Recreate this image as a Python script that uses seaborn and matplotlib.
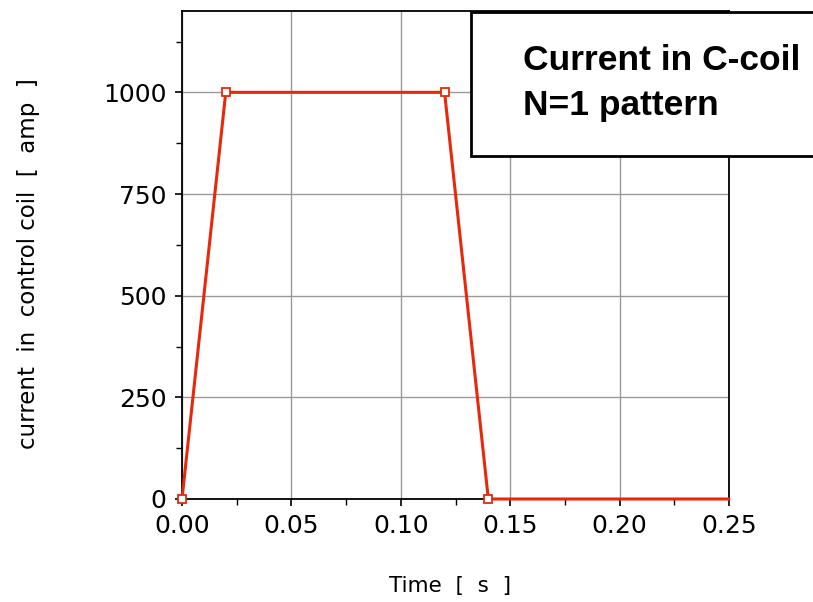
import matplotlib
matplotlib.use("Agg")
import matplotlib.pyplot as plt
import seaborn as sns
import pandas as pd
from matplotlib.patches import Rectangle
from matplotlib.ticker import MultipleLocator

time_s = [0.0, 0.02, 0.12, 0.14, 0.25]
current_amp = [0, 1000, 1000, 0, 0]
marked_points = [0, 1, 2, 3]
x_ticks = [0.00, 0.05, 0.10, 0.15, 0.20, 0.25]
x_tick_labels = ["0.00", "0.05", "0.10", "0.15", "0.20", "0.25"]
y_ticks = [0, 250, 500, 750, 1000]
y_tick_labels = ["0", "250", "500", "750", "1000"]

df = pd.DataFrame({"t": time_s, "i": current_amp})

sns.set_style("white")
plt.rcParams['font.family'] = ['DejaVu Sans']
plt.rcParams['text.color'] = 'black'
plt.rcParams['axes.labelcolor'] = 'black'
plt.rcParams['xtick.color'] = 'black'
plt.rcParams['ytick.color'] = 'black'

fig = plt.figure(figsize=(8.13, 6.02), dpi=100)
ax = fig.add_axes([182/813, 103/602, (729-182)/813, (499-11)/602])

ax.grid(True, color="#999999", linewidth=1.0, zorder=0)
ax.set_axisbelow(True)

sns.lineplot(data=df, x="t", y="i", ax=ax, color="#e8280a", linewidth=2.2,
             marker="s", markersize=6, markerfacecolor="white",
             markeredgecolor="#e8280a", markeredgewidth=1.3, zorder=5,
             markevery=marked_points, clip_on=False)

ax.set_xlim(0, 0.25)
ax.set_ylim(0, 1200)
ax.set_xticks(x_ticks)
ax.set_xticklabels(x_tick_labels)
ax.set_yticks(y_ticks)
ax.set_yticklabels(y_tick_labels)
ax.xaxis.set_minor_locator(MultipleLocator(0.025))
ax.yaxis.set_minor_locator(MultipleLocator(125))
ax.tick_params(which="major", direction="out", length=5, width=1.2, labelsize=18,
               bottom=True, left=True, colors="black")
ax.tick_params(which="minor", direction="out", length=4, width=1.0,
               bottom=True, left=True)
ax.tick_params(axis="x", pad=6)
ax.tick_params(axis="y", pad=6)
for s in ax.spines.values():
    s.set_color("black")
    s.set_linewidth(1.3)

ax.set_xlabel("Time  [  s  ]", fontsize=15.5)
ax.set_ylabel("current  in  control coil  [  amp  ]", fontsize=16.5)
ax.xaxis.set_label_coords((450 - 182) / 547, (499 - 576) / 488)
ax.yaxis.set_label_coords((40 - 182) / 547, (499 - 264) / 488)

# annotation box
W, H = 813, 602
rect = Rectangle((471/W, 1 - 156/H), (830-471)/W, (156-12)/H,
                 transform=fig.transFigure, facecolor="white", edgecolor="black",
                 linewidth=2, zorder=10, clip_on=False)
fig.patches.append(rect)
fig.text(523/W, 1 - 61/H, "Current in C-coil", fontsize=25.5, fontweight="bold",
         family="Liberation Sans", va="center", ha="left", zorder=11, color="black")
fig.text(523/W, 1 - 105/H, "N=1 pattern", fontsize=25.5, fontweight="bold",
         family="Liberation Sans", va="center", ha="left", zorder=11, color="black")

fig.savefig("out.png", dpi=100)
